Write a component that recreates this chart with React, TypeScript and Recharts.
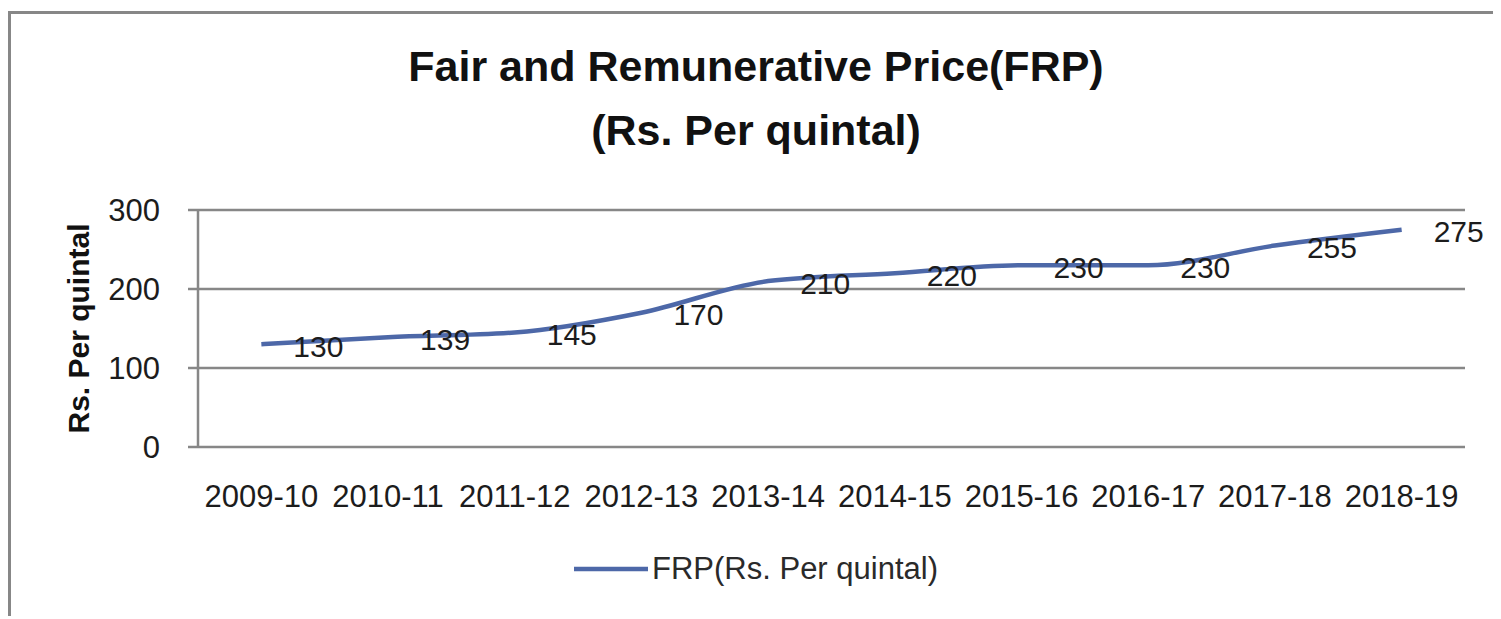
import {
  CartesianGrid,
  LabelList,
  Legend,
  Line,
  LineChart,
  XAxis,
  YAxis,
} from "recharts";

const seasons = [
  "2009-10",
  "2010-11",
  "2011-12",
  "2012-13",
  "2013-14",
  "2014-15",
  "2015-16",
  "2016-17",
  "2017-18",
  "2018-19",
];
const frp = [130, 139, 145, 170, 210, 220, 230, 230, 255, 275];
const yTicks = [0, 100, 200, 300];
const boundaryTicks = [0, 1, 2, 3, 4, 5, 6, 7, 8, 9, 10];
const centerTicks = [0.5, 1.5, 2.5, 3.5, 4.5, 5.5, 6.5, 7.5, 8.5, 9.5];

const SERIES = "FRP(Rs. Per quintal)";
const FONT = "'Liberation Sans', Arial, sans-serif";
const LINE = "#4d68a8";
const GRID = "#878787";
const TEXT = "#1c1c1c";

const data = seasons.map((s, i) => ({ pos: i + 0.5, season: s, frp: frp[i] }));

function PointLabel(props: any) {
  const { x, y, value } = props;
  return (
    <text
      x={x + 32}
      y={y + 2}
      dominantBaseline="central"
      fill={TEXT}
      fontSize={30}
      fontFamily={FONT}
    >
      {value}
    </text>
  );
}

function LegendContent() {
  return (
    <div
      style={{
        display: "flex",
        alignItems: "center",
        justifyContent: "center",
        fontFamily: FONT,
        fontSize: 31,
        color: "#2a2a2a",
      }}
    >
      <svg width={78} height={10}>
        <line x1={0} y1={5} x2={74} y2={5} stroke={LINE} strokeWidth={4.5} />
      </svg>
      <span>{SERIES}</span>
    </div>
  );
}

export default function App() {
  return (
    <div style={{ paddingTop: 3 }}>
      <div
        style={{
          position: "relative",
          width: 1490,
          height: 602,
          borderLeft: `3px solid ${GRID}`,
          borderTop: `3px solid ${GRID}`,
          background: "#fff",
          overflow: "hidden",
        }}
      >
        <div
          style={{
            position: "absolute",
            top: 20,
            left: 0,
            width: 1490,
            textAlign: "center",
            fontFamily: FONT,
            fontWeight: 700,
            fontSize: 43,
            lineHeight: "64px",
            color: "#111",
          }}
        >
          <div>Fair and Remunerative Price(FRP)</div>
          <div>(Rs. Per quintal)</div>
        </div>
        <LineChart
          width={1490}
          height={600}
          data={data}
          margin={{ top: 196, right: 36, bottom: 67, left: 0 }}
        >
          <CartesianGrid
            xAxisId="labels"
            vertical={false}
            stroke={GRID}
            strokeWidth={2.5}
          />
          <XAxis
            xAxisId="bounds"
            dataKey="pos"
            type="number"
            domain={[0, 10]}
            ticks={boundaryTicks}
            tick={false}
            height={0}
            axisLine={{ stroke: GRID, strokeWidth: 2.5 }}
            tickLine={{ stroke: GRID, strokeWidth: 2.5 }}
            tickSize={9}
          />
          <XAxis
            xAxisId="labels"
            dataKey="pos"
            type="number"
            domain={[0, 10]}
            ticks={centerTicks}
            interval={0}
            tickFormatter={(v: number) => seasons[Math.floor(v)]}
            axisLine={false}
            tickLine={false}
            tickSize={0}
            tickMargin={38}
            tick={{ fill: TEXT, fontSize: 31, fontFamily: FONT }}
            height={100}
          />
          <YAxis
            domain={[0, 300]}
            ticks={yTicks}
            width={187}
            axisLine={{ stroke: GRID, strokeWidth: 2.5 }}
            tickLine={{ stroke: GRID, strokeWidth: 2.5 }}
            tickSize={10}
            tickMargin={28}
            tick={{ fill: TEXT, fontSize: 31, fontFamily: FONT }}
            label={{
              content: ({ viewBox }: any) => (
                <text
                  x={viewBox.x + 67}
                  y={viewBox.y + viewBox.height / 2}
                  transform={`rotate(-90, ${viewBox.x + 67}, ${viewBox.y + viewBox.height / 2})`}
                  textAnchor="middle"
                  dominantBaseline="central"
                  fill="#111"
                  fontSize={30}
                  fontWeight={700}
                  fontFamily={FONT}
                >
                  Rs. Per quintal
                </text>
              ),
            }}
          />
          <Legend
            layout="vertical"
            align="center"
            verticalAlign="middle"
            content={<LegendContent />}
            wrapperStyle={{ top: 537, left: 0, width: 1490 }}
          />
          <Line
            xAxisId="labels"
            type="monotone"
            dataKey="frp"
            name={SERIES}
            stroke={LINE}
            strokeWidth={4.5}
            dot={false}
            isAnimationActive={false}
          >
            <LabelList dataKey="frp" content={<PointLabel />} />
          </Line>
        </LineChart>
      </div>
    </div>
  );
}
